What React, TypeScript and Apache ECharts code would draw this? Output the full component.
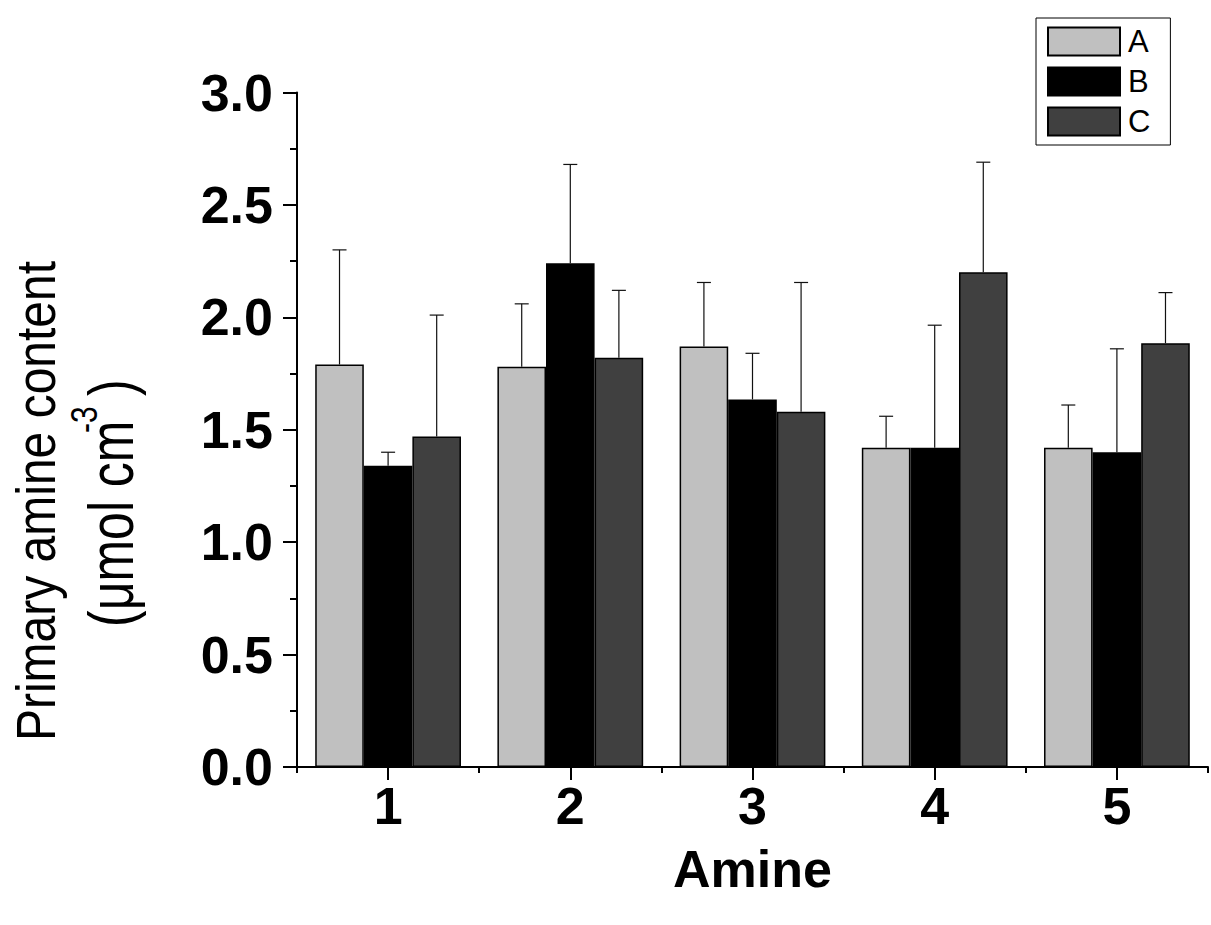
import React, { useEffect, useRef } from "react";
import * as echarts from "echarts";

const categories = ["1", "2", "3", "4", "5"];
const seriesNames = ["A", "B", "C"];
const valuesA = [1.79, 1.78, 1.87, 1.42, 1.42];
const valuesB = [1.34, 2.24, 1.635, 1.42, 1.40];
const valuesC = [1.47, 1.82, 1.58, 2.20, 1.885];
const upperA = [2.30, 2.06, 2.155, 1.56, 1.61];
const upperB = [1.40, 2.68, 1.84, 1.965, 1.86];
const upperC = [2.01, 2.12, 2.155, 2.69, 2.11];
const yTicks = [0, 0.5, 1.0, 1.5, 2.0, 2.5, 3.0];

const FONT = '"Liberation Sans", Arial, Helvetica, sans-serif';
const colors = ["#c0c0c0", "#000000", "#404040"];

export default function App() {
  const ref = useRef<HTMLDivElement>(null);
  useEffect(() => {
    if (!ref.current) return;
    const chart = echarts.init(ref.current, null, { renderer: "svg" });
    const vals = [valuesA, valuesB, valuesC];
    const ups = [upperA, upperB, upperC];
    const errData: number[][] = [];
    for (let s = 0; s < 3; s++) {
      for (let c = 0; c < categories.length; c++) {
        errData.push([c, s, vals[s][c], ups[s][c]]);
      }
    }
    const barSeries = seriesNames.map((name, i) => ({
      name,
      type: "bar",
      data: vals[i],
      barGap: "0%",
      barCategoryGap: "20%",
      itemStyle: { color: colors[i], borderColor: "#000", borderWidth: 1.5 },
      z: 2,
    }));
    chart.setOption({
      animation: false,
      backgroundColor: "#ffffff",
      textStyle: { fontFamily: FONT },
      grid: { left: 297, right: 3, top: 92.5, bottom: 158, containLabel: false },
      legend: {
        data: seriesNames,
        orient: "vertical",
        left: 1036,
        top: 18,
        padding: [8, 20, 8, 11],
        itemWidth: 72,
        itemHeight: 28,
        itemGap: 9,
        borderColor: "#000",
        borderWidth: 1,
        backgroundColor: "#fff",
        textStyle: { fontSize: 31, lineHeight: 28, color: "#000", fontFamily: FONT, padding: [0, 0, 0, 3] },
        icon: "rect",
      },
      xAxis: [
        {
          type: "category",
          data: categories,
          position: "bottom",
          axisLine: { show: true, lineStyle: { color: "#000", width: 2 } },
          axisTick: { show: true, alignWithLabel: true, length: 13, lineStyle: { color: "#000", width: 2 } },
          axisLabel: { fontSize: 52, fontWeight: "bold", color: "#000", margin: 13, fontFamily: FONT },
          name: "Amine",
          nameLocation: "middle",
          nameGap: 76,
          nameTextStyle: { fontSize: 52, fontWeight: "bold", color: "#000", fontFamily: FONT },
          splitLine: { show: false },
        },
        {
          type: "category",
          data: categories,
          position: "bottom",
          axisLine: { show: false },
          axisTick: { show: true, alignWithLabel: false, length: 6, lineStyle: { color: "#000", width: 2 } },
          axisLabel: { show: false },
          splitLine: { show: false },
        },
      ],
      yAxis: {
        type: "value",
        min: 0,
        max: 3,
        interval: 0.5,
        axisLine: { show: true, lineStyle: { color: "#000", width: 2 } },
        axisTick: { show: true, length: 14, lineStyle: { color: "#000", width: 2 } },
        minorTick: { show: true, splitNumber: 2, length: 7, lineStyle: { color: "#000", width: 2 } },
        splitLine: { show: false },
        axisLabel: {
          fontSize: 52,
          fontWeight: "bold",
          color: "#000",
          margin: 24,
          fontFamily: FONT,
          formatter: (v: number) => (yTicks.indexOf(v) >= 0 ? v.toFixed(1) : ""),
        },
      },
      series: [
        ...barSeries,
        {
          type: "custom",
          name: "err",
          xAxisIndex: 0,
          data: errData,
          encode: { x: 0, y: 3 },
          z: 3,
          renderItem: (params: any, api: any) => {
            const cat = api.value(0);
            const s = api.value(1);
            const v = api.value(2);
            const hi = api.value(3);
            const band = api.size([1, 0])[0];
            const bw = (band * 0.8) / 3;
            const cx = api.coord([cat, 0])[0] + (s - 1) * bw;
            const y0 = api.coord([cat, v])[1];
            const y1 = api.coord([cat, hi])[1];
            const st = { stroke: "#111", lineWidth: 1.2 };
            return {
              type: "group",
              children: [
                { type: "line", shape: { x1: cx, y1: y0, x2: cx, y2: y1 }, style: st },
                { type: "line", shape: { x1: cx - 7, y1: y1, x2: cx + 7, y2: y1 }, style: st },
              ],
            };
          },
        },
      ],
      graphic: [
        {
          type: "group",
          x: 36,
          y: 501,
          rotation: Math.PI / 2,
          scaleY: 1.15,
          children: [
            {
              type: "text",
              x: 0,
              y: 0,
              style: {
                text: "Primary amine content",
                fontSize: 48,
                fontFamily: FONT,
                fill: "#000",
                align: "center",
                verticalAlign: "middle",
              },
            },
          ],
        },
        {
          type: "group",
          x: 111,
          y: 500,
          rotation: Math.PI / 2,
          scaleY: 1.25,
          children: [
            {
              type: "text",
              x: -127,
              y: 0,
              style: {
                text: "(μmol cm",
                fontSize: 50,
                fontFamily: FONT,
                fill: "#000",
                align: "left",
                verticalAlign: "middle",
              },
            },
            {
              type: "text",
              x: 67,
              y: -22,
              style: {
                text: "-3",
                fontSize: 30,
                fontFamily: FONT,
                fill: "#000",
                align: "left",
                verticalAlign: "middle",
              },
            },
            {
              type: "text",
              x: 104,
              y: 0,
              style: {
                text: ")",
                fontSize: 50,
                fontFamily: FONT,
                fill: "#000",
                align: "left",
                verticalAlign: "middle",
              },
            },
          ],
        },
      ],
    });
    return () => chart.dispose();
  }, []);
  return (
    <div
      ref={ref}
      style={{ position: "absolute", left: 0, top: 0, width: 1211, height: 925, background: "#fff" }}
    />
  );
}
